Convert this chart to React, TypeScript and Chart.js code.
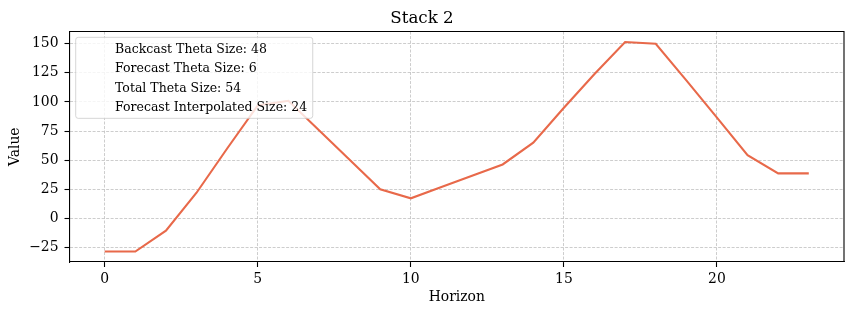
import React, { useEffect, useRef } from 'react';
import { Chart, registerables } from 'chart.js';

Chart.register(...registerables);

// ---- data ----
const horizon = [0, 1, 2, 3, 4, 5, 6, 7, 8, 9, 10, 11, 12, 13, 14, 15, 16, 17, 18, 19, 20, 21, 22, 23];
const values = [-28.5, -28.5, -10.6, 22, 60, 97, 101, 75.6, 50.3, 25, 17.2, 26.9, 36.6, 46.3, 65, 95, 124, 151.5, 150, 118.5, 86.5, 54.3, 38.6, 38.6];
const xTicks = [0, 5, 10, 15, 20];
const yTicks = [-25, 0, 25, 50, 75, 100, 125, 150];
const legendLabels = [
  'Backcast Theta Size: 48',
  'Forecast Theta Size: 6',
  'Total Theta Size: 54',
  'Forecast Interpolated Size: 24',
];
const chartTitle = 'Stack 2';
const xLabel = 'Horizon';
const yLabel = 'Value';

const FONT = 'DejaVu Serif';
const LINE_COLOR = '#E8694A';

const frameLegendPlugin = {
  id: 'frameLegend',
  afterDatasetsDraw(chart: any) {
    const { ctx, chartArea: a } = chart;
    ctx.save();
    // top & right spines
    ctx.strokeStyle = '#000';
    ctx.lineWidth = 1.1;
    ctx.beginPath();
    ctx.moveTo(a.left, a.top);
    ctx.lineTo(a.right, a.top);
    ctx.lineTo(a.right, a.bottom);
    ctx.stroke();

    // legend box (labels only, invisible handles)
    const fs = 12.5;
    ctx.font = `${fs}px "${FONT}"`;
    let maxW = 0;
    legendLabels.forEach((t) => { maxW = Math.max(maxW, ctx.measureText(t).width); });
    const bx = a.left + 6.2;
    const by = a.top + 5.8;
    const textX = bx + 39.3;
    const bw = 39.3 + maxW + 5.6;
    const lineGap = 19.1;
    const bh = 16 + lineGap * (legendLabels.length - 1) + 7.7;
    const r = 2.5;
    ctx.beginPath();
    ctx.moveTo(bx + r, by);
    ctx.lineTo(bx + bw - r, by);
    ctx.arcTo(bx + bw, by, bx + bw, by + r, r);
    ctx.lineTo(bx + bw, by + bh - r);
    ctx.arcTo(bx + bw, by + bh, bx + bw - r, by + bh, r);
    ctx.lineTo(bx + r, by + bh);
    ctx.arcTo(bx, by + bh, bx, by + bh - r, r);
    ctx.lineTo(bx, by + r);
    ctx.arcTo(bx, by, bx + r, by, r);
    ctx.closePath();
    ctx.fillStyle = 'rgba(255,255,255,0.8)';
    ctx.fill();
    ctx.strokeStyle = 'rgba(204,204,204,0.8)';
    ctx.lineWidth = 1;
    ctx.stroke();

    ctx.fillStyle = '#000';
    ctx.textAlign = 'left';
    ctx.textBaseline = 'alphabetic';
    legendLabels.forEach((t, i) => {
      ctx.fillText(t, textX, by + 16 + i * lineGap);
    });
    ctx.restore();
  },
};

export default function App() {
  const canvasRef = useRef<HTMLCanvasElement | null>(null);

  useEffect(() => {
    const canvas = canvasRef.current;
    if (!canvas) return;
    const fmt = (v: any) => String(v).replace('-', '\u2212');
    const chart = new Chart(canvas, {
      type: 'line',
      data: {
        datasets: [
          {
            label: 'Stack 2',
            data: horizon.map((h, i) => ({ x: h, y: values[i] })),
            borderColor: LINE_COLOR,
            borderWidth: 2.1,
            pointRadius: 0,
            fill: false,
            tension: 0,
          },
        ],
      },
      options: {
        animation: false,
        responsive: false,
        devicePixelRatio: 1,
        layout: { padding: { left: 0, right: 9, top: 0, bottom: 0 } },
        plugins: {
          legend: { display: false },
          tooltip: { enabled: false },
          title: {
            display: true,
            text: chartTitle,
            color: '#000',
            font: { family: FONT, size: 16.7, weight: 'normal' as any },
            padding: { top: 8.5, bottom: 3 },
          },
        },
        scales: {
          x: {
            type: 'linear',
            min: -1.15,
            max: 24.15,
            afterBuildTicks: (s: any) => { s.ticks = xTicks.map((v) => ({ value: v })); },
            afterFit: (s: any) => { s.height = 53; },
            ticks: {
              color: '#000',
              font: { family: FONT, size: 13.9 },
              padding: 4,
              maxRotation: 0,
              autoSkip: false,
              callback: (v: any) => fmt(v),
            },
            grid: {
              color: '#c0c0c0',
              lineWidth: 0.8,
              drawTicks: true,
              tickLength: 5,
              tickColor: '#000',
              tickWidth: 1.1,
              tickBorderDash: [],
            },
            border: { display: true, color: '#000', width: 1.1, dash: [3, 1.5] },
            title: {
              display: true,
              text: xLabel,
              color: '#000',
              font: { family: FONT, size: 13.9 },
              padding: { top: 0, bottom: 9.2 },
            },
          },
          y: {
            type: 'linear',
            min: -37.5,
            max: 160.5,
            afterBuildTicks: (s: any) => { s.ticks = yTicks.map((v) => ({ value: v })); },
            afterFit: (s: any) => { s.width = 69.5; },
            ticks: {
              color: '#000',
              font: { family: FONT, size: 13.9 },
              padding: 6,
              autoSkip: false,
              callback: (v: any) => fmt(v),
            },
            grid: {
              color: '#c0c0c0',
              lineWidth: 0.8,
              drawTicks: true,
              tickLength: 5,
              tickColor: '#000',
              tickWidth: 1.1,
              tickBorderDash: [],
            },
            border: { display: true, color: '#000', width: 1.1, dash: [3, 1.5] },
            title: {
              display: true,
              text: yLabel,
              color: '#000',
              font: { family: FONT, size: 13.9 },
              padding: { top: 7, bottom: 0 },
            },
          },
        },
      },
      plugins: [frameLegendPlugin],
    });
    return () => chart.destroy();
  }, []);

  return (
    <div style={{ position: 'fixed', left: 0, top: 0, width: 853, height: 315, background: '#fff' }}>
      <canvas ref={canvasRef} width={853} height={315} style={{ display: 'block', width: 853, height: 315 }} />
    </div>
  );
}
